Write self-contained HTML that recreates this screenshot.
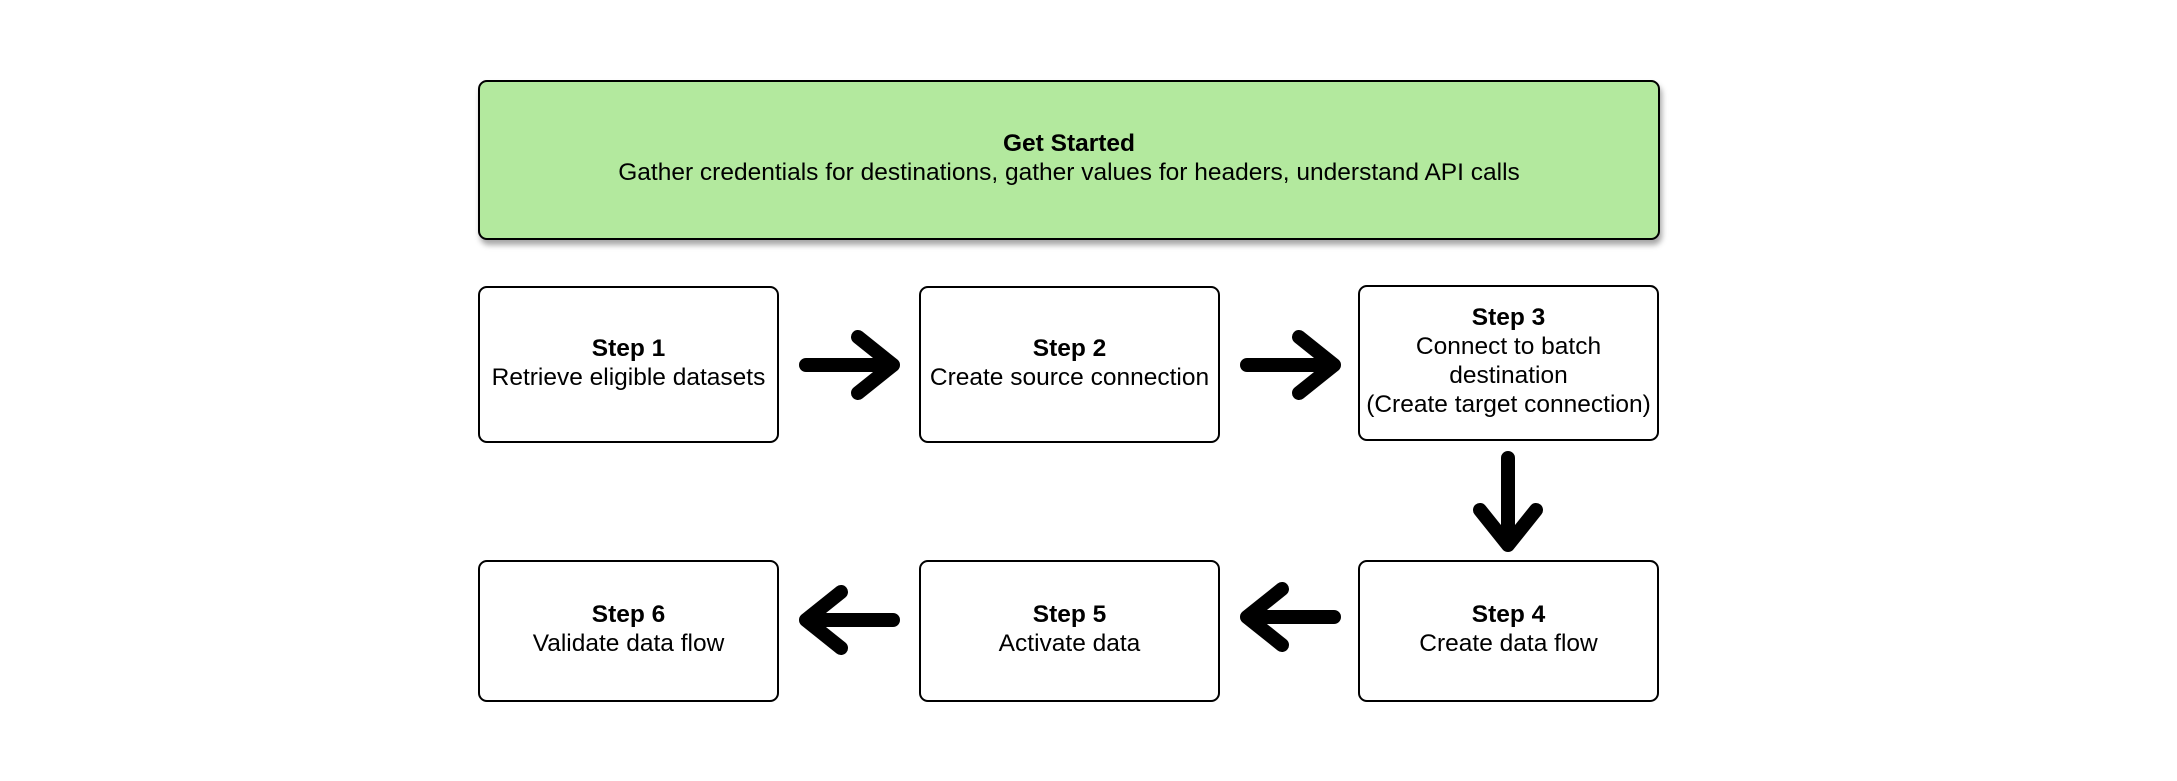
<!DOCTYPE html>
<html><head><style>
body{margin:0;width:2177px;height:781px;background:#fff;position:relative;overflow:hidden;font-family:"Liberation Sans",sans-serif;color:#000}
.b{position:absolute;box-sizing:border-box;border:2px solid #000;border-radius:9px;background:#fff;display:flex;flex-direction:column;justify-content:center;align-items:center;text-align:center;font-size:24.5px;line-height:29px;padding-bottom:4px}
.b b{font-weight:bold}
svg{position:absolute;left:0;top:0}
</style></head><body>
<div class="b" style="left:478px;top:80px;width:1182px;height:160px;background:#b3e99e;box-shadow:2px 5px 6px rgba(0,0,0,0.35)"><b>Get Started</b><span>Gather credentials for destinations, gather values for headers, understand API calls</span></div>
<div class="b" style="left:478px;top:286px;width:301px;height:157px"><b>Step 1</b><span>Retrieve eligible datasets</span></div>
<div class="b" style="left:919px;top:286px;width:301px;height:157px"><b>Step 2</b><span>Create source connection</span></div>
<div class="b" style="left:1358px;top:285px;width:301px;height:156px"><b>Step 3</b><span>Connect to batch<br>destination<br>(Create target connection)</span></div>
<div class="b" style="left:478px;top:560px;width:301px;height:142px"><b>Step 6</b><span>Validate data flow</span></div>
<div class="b" style="left:919px;top:560px;width:301px;height:142px"><b>Step 5</b><span>Activate data</span></div>
<div class="b" style="left:1358px;top:560px;width:301px;height:142px"><b>Step 4</b><span>Create data flow</span></div>
<svg width="2177" height="781" fill="none" stroke="#000" stroke-width="14" stroke-linecap="round" stroke-linejoin="round">
<path d="M806 365H893M858 337L893 365L858 393"/>
<path d="M1247 365H1334M1299 337L1334 365L1299 393"/>
<path d="M1508 458V545M1480 510L1508 545L1536 510"/>
<path d="M1334 617H1247M1282 589L1247 617L1282 645"/>
<path d="M893 620H806M841 592L806 620L841 648"/>
</svg>
</body></html>
